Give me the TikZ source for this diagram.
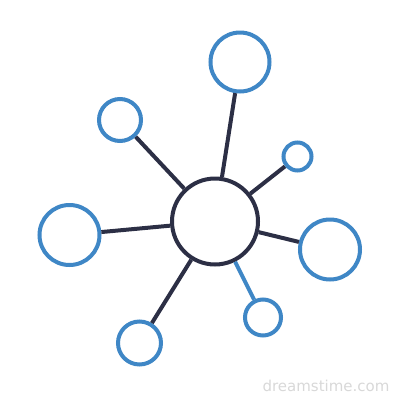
\documentclass[tikz,border=0pt]{standalone}
\usepackage{fontspec}
\setsansfont{DejaVu Sans}
\definecolor{navy}{HTML}{2C2F45}
\definecolor{hubblue}{HTML}{3F87C6}
\definecolor{wm}{HTML}{D8D8D8}
\begin{document}
\begin{tikzpicture}[x=1pt,y=-1pt,
  hub/.style={circle,draw=navy,line width=4pt,inner sep=0pt,minimum size=86pt,fill=white},
  leaf/.style={circle,draw=hubblue,line width=4pt,inner sep=0pt,fill=white},
  link/.style={draw=navy,line width=4pt},
  bluelink/.style={draw=hubblue,line width=4pt}]
\useasboundingbox (0,0) rectangle (400,400);
\node[hub] (c) at (215,221.5) {};
\node[leaf,minimum size=59pt] (t) at (240,62) {};
\node[leaf,minimum size=42pt] (ul) at (120,120) {};
\node[leaf,minimum size=28pt] (sr) at (297.5,156.5) {};
\node[leaf,minimum size=60pt] (l) at (69.5,235) {};
\node[leaf,minimum size=60pt] (r) at (330,249.5) {};
\node[leaf,minimum size=43pt] (bl) at (139.5,343) {};
\node[leaf,minimum size=36pt] (br) at (263,317.5) {};
\draw[link] (c) -- (t);
\draw[link] (c) -- (ul);
\draw[link] (c) -- (sr);
\draw[link] (c) -- (l);
\draw[link] (c) -- (r);
\draw[link] (c) -- (bl);
\draw[bluelink] (c) -- (br);
\node[text=wm,font=\sffamily\fontsize{15}{15}\selectfont,inner sep=0pt] (w) at (326,386) {dreamstime.com};
\end{tikzpicture}
\end{document}
